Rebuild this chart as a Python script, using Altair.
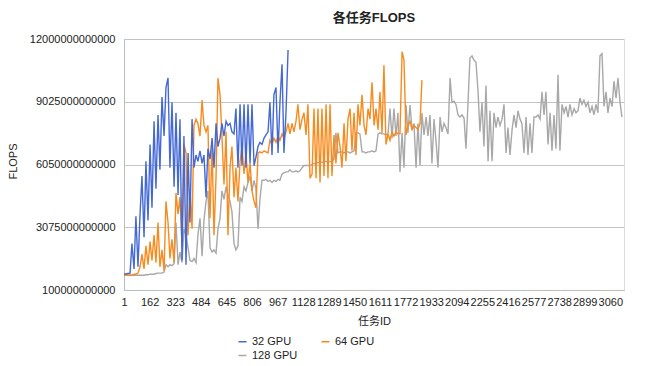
import altair as alt
import pandas as pd
import numpy as np

chart_title = "各任务FLOPS"
x_title = "任务ID"
y_title = "FLOPS"
series_names = ["32 GPU", "64 GPU", "128 GPU"]
series_colors = ["#4468d6", "#f98b1e", "#a8a8a8"]
x_ticks = [1, 162, 323, 484, 645, 806, 967, 1128, 1289, 1450, 1611, 1772,
           1933, 2094, 2255, 2416, 2577, 2738, 2899, 3060]
y_ticks = [100000000000, 3075000000000, 6050000000000, 9025000000000, 12000000000000]
x_max = 3146
id_step = 12.58  # task-ID spacing between the listed (read-off) samples

# values, in units of 1e12 FLOPS
gpu32_tflops = [
    0.86, 0.86, 0.88, 0.9, 2.3, 1.1, 3.6, 1.2, 3.7, 5.5,
    2.6, 6.2, 3.4, 7.0, 4.0, 8.1, 4.9, 8.4, 5.8, 9.25,
    7.4, 9.7, 10.15, 5.9, 9.0, 5.0, 8.5, 4.6, 8.2, 1.5,
    7.4, 1.3, 6.6, 3.3, 8.2, 5.9, 6.5, 6.2, 6.7, 6.1,
    6.5, 4.5, 6.8, 6.3, 7.3, 5.9, 8.0, 6.9, 7.3, 8.0,
    7.4, 8.1, 7.9, 8.0, 7.6, 7.5, 8.7, 5.9, 8.9, 6.0,
    8.9, 5.9, 8.9, 6.1, 8.9, 6.0, 6.4, 6.9, 7.1, 7.0,
    7.3, 7.45, 7.6, 9.0, 6.5, 9.35, 9.7, 6.6, 9.0, 10.8,
    6.6, 8.5, 11.48,
]
gpu64_tflops = [
    0.8, 0.8, 0.8, 0.8, 0.82, 0.85, 0.85, 0.9, 1.2, 1.8,
    1.1, 2.2, 1.3, 2.4, 1.5, 2.7, 1.4, 3.3, 1.2, 2.0,
    1.0, 4.3, 3.3, 1.6, 2.5, 1.4, 4.7, 3.7, 4.5, 2.2,
    7.0, 6.6, 2.7, 4.9, 3.0, 7.9, 8.2, 8.0, 7.4, 9.1,
    7.9, 7.6, 7.9, 3.5, 6.9, 2.7, 5.5, 10.15, 9.35, 7.4,
    5.1, 7.6, 2.7, 5.9, 6.9, 4.5, 5.9, 4.3, 6.2, 6.9,
    5.6, 6.6, 5.2, 6.1, 4.8, 4.3, 4.0, 6.6, 6.65, 6.6,
    6.7, 6.65, 6.6, 7.2, 7.0, 7.3, 7.1, 7.4, 7.2, 7.5,
    7.3, 7.6, 8.0, 7.5, 8.0, 7.6, 8.1, 8.9, 7.7, 8.2,
    8.5, 7.45, 8.9, 5.4, 5.6, 8.7, 5.4, 8.7, 5.2, 8.7,
    5.5, 8.9, 5.4, 8.9, 5.5, 7.45, 6.1, 7.55, 6.9, 5.9,
    8.0, 6.2, 8.2, 8.7, 6.7, 8.5, 6.5, 8.9, 7.9, 9.35,
    7.9, 7.45, 8.7, 8.2, 9.95, 7.9, 8.7, 7.7, 9.5, 7.55,
    10.75, 7.0, 7.5, 7.2, 7.6, 7.4, 7.6, 7.5, 7.5, 11.4,
    11.0, 7.45, 7.9, 8.1, 7.7, 7.9, 7.8, 7.7, 8.0, 10.05,
]
gpu128_tflops = [
    0.8, 0.8, 0.8, 0.8, 0.8, 0.8, 0.8, 0.8, 0.8, 0.8,
    0.8, 0.82, 0.82, 0.85, 0.85, 0.85, 0.88, 0.9, 0.9, 0.9,
    0.95, 1.3, 1.2, 1.3, 1.25, 1.35, 3.3, 1.3, 1.9, 1.4,
    3.0, 2.7, 2.1, 1.5, 1.45, 1.6, 1.4, 2.7, 3.5, 1.7,
    3.4, 4.3, 4.8, 2.1, 1.9, 2.0, 1.85, 3.0, 3.5, 4.8,
    4.4, 5.0, 4.6, 4.3, 3.8, 2.3, 2.0, 2.2, 4.5, 4.3,
    5.0, 4.8, 5.2, 5.5, 4.8, 5.3, 4.9, 3.0, 4.4, 5.3,
    5.3, 5.35, 5.25, 5.3, 5.2, 5.3, 5.25, 5.35, 5.3, 5.6,
    5.65, 5.7, 5.7, 5.8, 5.7, 5.7, 5.75, 5.7, 5.75, 5.9,
    6.0, 6.0, 6.0, 6.0, 6.05, 6.1, 6.1, 6.15, 6.15, 6.15,
    6.2, 6.2, 6.15, 6.2, 6.2, 6.3, 7.55, 6.6, 6.65, 6.65,
    6.6, 6.65, 6.65, 6.6, 6.65, 6.7, 7.55, 7.55, 7.5, 6.65,
    6.65, 6.6, 6.65, 6.65, 6.7, 6.65, 6.7, 7.5, 7.55, 7.5,
    7.5, 7.45, 7.5, 8.7, 7.3, 8.7, 7.4, 8.5, 5.7, 7.55,
    5.9, 8.87, 7.55, 8.87, 7.7, 8.0, 5.9, 8.0, 6.0, 8.5,
    7.45, 8.3, 7.4, 8.4, 6.1, 8.2, 7.2, 5.9, 8.3, 7.6,
    8.0, 7.8, 7.5, 10.15, 9.0, 9.05, 8.9, 8.4, 8.3, 8.4,
    8.25, 6.8, 9.0, 11.1, 11.2, 11.0, 10.9, 9.5, 7.6, 9.0,
    6.9, 9.8, 6.2, 8.6, 6.2, 8.5, 7.8, 8.3, 7.9, 8.2,
    8.9, 6.6, 7.8, 6.5, 7.7, 8.4, 7.8, 8.6, 8.2, 8.0,
    6.6, 8.3, 6.5, 8.0, 6.6, 8.3, 8.3, 8.4, 8.2, 9.5,
    8.4, 9.5, 7.0, 8.5, 6.7, 8.4, 6.8, 10.3, 6.7, 8.9,
    8.5, 8.8, 8.3, 8.9, 8.4, 8.7, 8.5, 8.6, 9.2, 8.9,
    9.1, 8.8, 9.0, 8.5, 8.8, 8.4, 8.9, 8.5, 11.2, 11.3,
    8.8, 9.5, 8.5, 9.2, 8.8, 10.0, 9.2, 10.15, 9.0, 8.3,
]

frames = []
for name, vals in zip(series_names, [gpu32_tflops, gpu64_tflops, gpu128_tflops]):
    ids = np.round(1 + np.arange(len(vals)) * id_step).astype(int)
    frames.append(pd.DataFrame({"task": ids, "flops": np.array(vals) * 1e12, "series": name}))
df = pd.concat(frames, ignore_index=True)

FONT = "Liberation Sans, Noto Sans CJK SC, sans-serif"

x_enc = alt.X("task:Q",
              scale=alt.Scale(domain=[1, x_max], nice=False, zero=False),
              axis=alt.Axis(values=x_ticks, format="d", labelOverlap=False, grid=False,
                            ticks=False, labelPadding=6, labelFlush=False, title=x_title,
                            titlePadding=8, domainColor="#bdbdbd", labelFontSize=11,
                            titleFontSize=11, titleFontWeight="normal",
                            labelColor="#222222", titleColor="#222222"))
y_enc = alt.Y("flops:Q",
              scale=alt.Scale(domain=[y_ticks[0], y_ticks[-1]], nice=False, zero=False),
              axis=alt.Axis(values=y_ticks, format="d", grid=True, gridColor="#c4c4c4",
                            ticks=False, labelPadding=9, title=y_title, titleX=-106,
                            titleY=122, domainColor="#bdbdbd", labelFontSize=11,
                            titleFontSize=11, titleFontWeight="normal",
                            labelColor="#222222", titleColor="#222222"))
color_enc = alt.Color("series:N",
                      scale=alt.Scale(domain=series_names, range=series_colors),
                      legend=alt.Legend(title=None, orient="none", legendX=113, legendY=297,
                                        direction="horizontal", columns=2,
                                        columnPadding=20, rowPadding=2,
                                        symbolType="stroke", symbolSize=64,
                                        symbolStrokeWidth=1.5, labelFontSize=11,
                                        labelColor="#222222"))

layers = []
for name in ["128 GPU", "64 GPU", "32 GPU"]:
    layers.append(
        alt.Chart(df[df["series"] == name])
        .mark_line(strokeWidth=1.4)
        .encode(x=x_enc, y=y_enc, color=color_enc, order="task:Q")
    )

chart = (
    alt.layer(*layers)
    .properties(
        width=500, height=251,
        title=alt.TitleParams(chart_title, fontSize=13, fontWeight="bold", offset=8,
                              anchor="middle", color="#222222"),
        autosize=alt.AutoSizeParams(type="none"),
        padding={"left": 116, "top": 31, "right": 18, "bottom": 74},
        background="white",
    )
    .configure_view(stroke=None)
    .configure(font=FONT)
)

chart.save("out.html", embed_options={"renderer": "svg", "actions": False})
